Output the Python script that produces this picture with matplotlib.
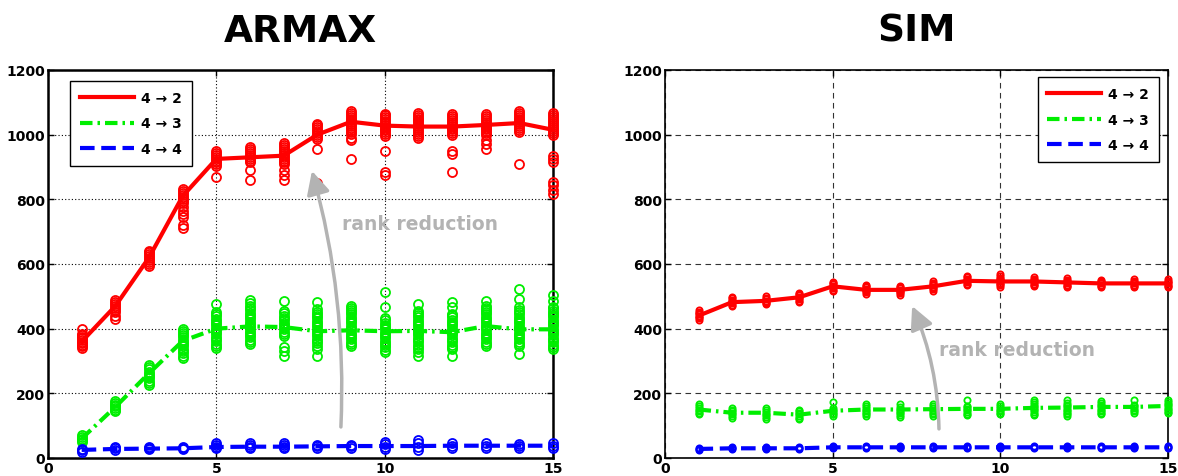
import numpy as np
import matplotlib
matplotlib.use("Agg")
import matplotlib.pyplot as plt
from matplotlib.lines import Line2D

# x positions (1..15)
steps = list(range(1, 16))

# ARMAX samples per step
armax_red = [
    [340, 345, 350, 355, 360, 365, 370, 375, 380, 385, 400],
    [430, 440, 452, 458, 464, 470, 476, 482, 488],
    [595, 601, 607, 613, 619, 625, 631, 637, 641],
    [710, 720, 745, 755, 765, 775, 790, 796, 802, 808, 814, 820, 826, 831],
    [870, 902, 908, 914, 920, 926, 932, 938, 944, 950],
    [860, 890, 914, 920, 926, 932, 938, 944, 950, 956, 962],
    [860, 875, 890, 908, 914, 920, 926, 932, 938, 944, 950, 956, 962, 968, 975],
    [850, 955, 987, 993, 999, 1005, 1011, 1017, 1023, 1029, 1034],
    [925, 985, 990, 1002, 1008, 1014, 1020, 1026, 1032, 1038, 1044, 1050, 1056, 1062, 1068, 1073],
    [875, 885, 950, 995, 1001, 1007, 1013, 1019, 1025, 1031, 1037, 1043, 1049, 1055, 1061, 1065],
    [990, 996, 1002, 1008, 1014, 1020, 1026, 1032, 1038, 1044, 1050, 1056, 1062, 1068],
    [885, 940, 948, 998, 1004, 1010, 1016, 1022, 1028, 1034, 1040, 1046, 1052, 1058, 1064],
    [955, 970, 985, 998, 1004, 1010, 1016, 1022, 1028, 1034, 1040, 1046, 1052, 1058, 1064],
    [908, 1008, 1014, 1020, 1026, 1032, 1038, 1044, 1050, 1056, 1062, 1068, 1073],
    [815, 830, 845, 855, 915, 925, 935, 1000, 1006, 1012, 1018, 1024, 1030, 1036, 1042,
     1048, 1054, 1060, 1066],
]
armax_green = [
    [50, 55, 60, 65, 70],
    [145, 150, 155, 160, 165, 170, 175],
    [225, 232, 239, 246, 253, 260, 267, 274, 281, 288],
    [310, 317, 324, 331, 338, 345, 352, 359, 366, 373, 380, 387, 394, 400],
    [340, 347, 354, 361, 368, 375, 382, 389, 396, 403, 410, 417, 424, 431, 438, 445, 452, 475],
    [352, 359, 366, 373, 380, 387, 394, 401, 408, 415, 422, 429, 436, 443, 450, 457, 464,
     471, 478, 490],
    [315, 330, 343, 377, 384, 391, 398, 405, 412, 419, 426, 433, 440, 447, 454, 485],
    [315, 337, 346, 355, 362, 369, 376, 383, 390, 397, 404, 411, 418, 425, 432, 439, 446,
     453, 460, 481],
    [346, 353, 360, 367, 374, 381, 388, 395, 402, 409, 416, 423, 430, 437, 444, 451, 458,
     465, 470],
    [328, 335, 342, 349, 356, 363, 370, 377, 384, 391, 398, 405, 412, 419, 426, 433, 466, 513],
    [315, 328, 337, 344, 351, 358, 365, 372, 379, 386, 393, 400, 407, 414, 421, 428, 435,
     442, 449, 454, 476],
    [315, 337, 344, 351, 358, 365, 372, 379, 386, 393, 400, 407, 414, 421, 428, 435, 442,
     445, 466, 481],
    [346, 353, 360, 367, 374, 381, 388, 395, 402, 409, 416, 423, 430, 437, 444, 451, 458,
     465, 470, 485],
    [321, 346, 353, 360, 367, 374, 381, 388, 395, 402, 409, 416, 423, 430, 437, 444, 451,
     458, 466, 491, 522],
    [337, 344, 351, 358, 365, 372, 379, 386, 393, 400, 407, 414, 421, 428, 435, 442, 449,
     456, 463, 466, 485, 505],
]
armax_blue = [
    [20, 25, 28], [25, 30, 35], [27, 30, 33], [27, 30, 33],
    [30, 35, 40, 45], [30, 35, 40, 45], [30, 35, 40, 45], [32, 36, 40],
    [32, 36, 40], [28, 35, 42, 48], [25, 35, 45, 55], [30, 38, 45],
    [30, 38, 45], [32, 38, 42], [30, 38, 45],
]
armax_red_line = [360, 470, 620, 810, 925, 930, 935, 1000, 1040, 1028, 1025, 1025, 1030, 1036, 1015]
armax_green_line = [60, 158, 262, 362, 400, 407, 405, 392, 395, 392, 393, 389, 408, 398, 398]
armax_blue_line = [25, 28, 29, 30, 34, 35, 35, 36, 37, 37, 37, 38, 38, 38, 38]

# SIM samples per step
sim_red = [
    [428, 432, 436, 440, 444, 448, 452, 457],
    [470, 474, 478, 482, 486, 490, 494, 497],
    [475, 479, 483, 487, 491, 495, 500],
    [483, 487, 491, 495, 499, 503, 507, 511],
    [517, 521, 525, 529, 533, 537, 541, 545],
    [508, 512, 516, 520, 524, 528, 532, 535],
    [505, 509, 513, 517, 521, 525, 529, 532],
    [518, 522, 526, 530, 534, 538, 542, 548],
    [535, 539, 543, 547, 551, 555, 559, 562],
    [530, 534, 538, 542, 546, 550, 554, 558, 562, 570],
    [531, 535, 539, 543, 547, 551, 555, 561],
    [528, 532, 536, 540, 544, 548, 552, 557],
    [528, 532, 536, 540, 544, 548, 552],
    [528, 532, 536, 540, 544, 548, 553],
    [528, 532, 536, 540, 544, 548, 553],
]
sim_green = [
    [135, 140, 145, 150, 155, 160, 167],
    [125, 130, 135, 140, 145, 150, 155],
    [122, 127, 132, 137, 142, 147, 155],
    [120, 125, 130, 135, 140, 145, 150],
    [130, 135, 140, 145, 150, 155, 172],
    [130, 135, 140, 145, 150, 155, 160, 166],
    [128, 133, 138, 143, 148, 153, 158, 168],
    [130, 135, 140, 145, 150, 155, 160, 168],
    [132, 137, 142, 147, 152, 157, 162, 178],
    [135, 140, 145, 150, 155, 160, 168],
    [132, 137, 142, 147, 152, 157, 162, 167, 172, 180],
    [130, 135, 140, 145, 150, 155, 160, 165, 170, 178],
    [135, 140, 145, 150, 155, 160, 165, 170, 175],
    [140, 145, 150, 155, 160, 165, 180],
    [138, 143, 148, 153, 158, 163, 168, 173, 178],
]
sim_blue = [
    [25, 28, 31], [27, 30, 33], [27, 30, 33], [27, 30, 33], [30, 33, 36],
    [30, 33, 36], [30, 33, 36], [30, 33, 36], [30, 33, 36], [30, 33, 36],
    [30, 33, 36], [30, 33, 36], [30, 33, 36], [30, 33, 36], [30, 33, 36],
]
sim_red_line = [440, 482, 486, 497, 531, 520, 520, 531, 548, 546, 546, 543, 540, 540, 540]
sim_green_line = [150, 140, 140, 134, 146, 150, 150, 151, 152, 152, 155, 156, 158, 158, 161]
sim_blue_line = [28, 30, 30, 30, 33, 33, 33, 33, 33, 33, 33, 33, 33, 33, 33]

labels = ['4 → 2', '4 → 3', '4 → 4']
colors = ['#ff0000', '#00ee00', '#0000ff']
styles = ['-', (0, (3.0, 1.2, 0.6, 1.2)), (0, (3.5, 1.6))]

plt.rcParams['font.family'] = 'DejaVu Sans'
plt.rcParams['font.weight'] = 'bold'

fig = plt.figure(figsize=(11.78, 4.77), dpi=100)
ax1 = fig.add_axes([48 / 1178, 18 / 477, 505 / 1178, 388 / 477])
ax2 = fig.add_axes([665 / 1178, 18 / 477, 503 / 1178, 388 / 477])


def draw(ax, samples, lines, ms, grid_style, spine_w, legend_loc, legend_anchor):
    # scatter of every sample as open circles
    for col, smp in zip(colors, samples):
        for x, vals in zip(steps, smp):
            ax.plot([x] * len(vals), vals, 'o', mfc='none', mec=col, ms=ms, mew=1.3,
                    zorder=3, clip_on=False)
    for col, st, ln, lab in zip(colors, styles, lines, labels):
        ax.plot(steps, ln, color=col, linestyle=st, lw=3, label=lab, zorder=4)
    ax.set_xlim(0, 15)
    ax.set_ylim(0, 1200)
    ax.set_xticks([0, 5, 10, 15])
    ax.set_yticks(range(0, 1201, 200))
    ax.tick_params(direction='in', top=True, right=True, labelsize=10, pad=2, width=1, length=4)
    for lab in ax.get_xticklabels() + ax.get_yticklabels():
        lab.set_fontweight('bold')
    for s in ax.spines.values():
        s.set_linewidth(spine_w)
    ax.grid(True, color=grid_style[0], linestyle=grid_style[1], lw=grid_style[2])
    ax.set_axisbelow(True)
    leg_lines = [Line2D([0], [0], color=c, linestyle=s, lw=3) for c, s in zip(colors, styles)]
    leg = ax.legend(leg_lines, labels, loc=legend_loc, bbox_to_anchor=legend_anchor,
                    prop={'weight': 'bold', 'size': 10}, fancybox=False, edgecolor='black',
                    framealpha=1, handlelength=3.9, labelspacing=0.85, borderpad=0.7,
                    handletextpad=0.5, borderaxespad=0)
    leg.get_frame().set_linewidth(1)
    leg.set_zorder(6)


draw(ax1, [armax_red, armax_green, armax_blue],
     [armax_red_line, armax_green_line, armax_blue_line],
     6.5, ('black', (0, (1, 2)), 0.8), 1.8, 'upper left', (0.044, 0.972))
draw(ax2, [sim_red, sim_green, sim_blue],
     [sim_red_line, sim_green_line, sim_blue_line],
     4.5, ('#333333', (0, (5, 4)), 0.8), 1.2, 'upper right', (0.982, 0.982))

gray = '#b3b3b3'
ax1.annotate('', xy=(7.84, 888), xytext=(8.70, 96),
             arrowprops=dict(arrowstyle='-|>,head_length=0.7,head_width=0.35', color=gray, lw=2.5,
                             connectionstyle='arc3,rad=0.08', mutation_scale=20, shrinkA=0, shrinkB=0),
             zorder=5)
ax1.text(11.05, 724, 'rank reduction', color=gray, fontsize=13.5, fontweight='bold',
         ha='center', va='center')
ax2.annotate('', xy=(7.37, 470), xytext=(8.17, 90),
             arrowprops=dict(arrowstyle='-|>,head_length=0.7,head_width=0.35', color=gray, lw=2.5,
                             connectionstyle='arc3,rad=0.1', mutation_scale=20, shrinkA=0, shrinkB=0),
             zorder=5)
ax2.text(10.5, 337, 'rank reduction', color=gray, fontsize=13.5, fontweight='bold',
         ha='center', va='center')

fig.text(300 / 1178, (477 - 42) / 477, 'ARMAX', fontsize=27, fontweight='bold',
         ha='center', va='baseline')
fig.text(916 / 1178, (477 - 42) / 477, 'SIM', fontsize=27, fontweight='bold',
         ha='center', va='baseline')

fig.savefig('out.png', dpi=100)
